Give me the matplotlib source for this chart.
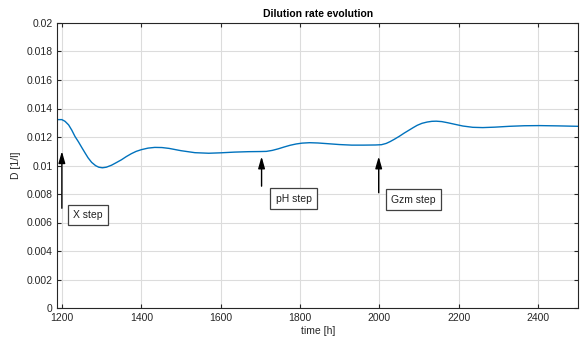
import matplotlib
matplotlib.use("Agg")
import matplotlib.pyplot as plt

# values
time_h = [1189, 1200, 1208, 1217, 1225, 1233, 1242, 1250, 1258, 1266, 1275, 1285,
          1293, 1302, 1312, 1325, 1337, 1350, 1362, 1375, 1387, 1400, 1417, 1434,
          1452, 1470, 1500, 1535, 1570, 1600, 1635, 1670, 1700, 1715, 1730, 1745,
          1760, 1775, 1790, 1805, 1824, 1845, 1870, 1899, 1930, 1960, 1990, 2005,
          2017, 2027, 2038, 2050, 2062, 2075, 2085, 2095, 2107, 2120, 2132, 2143,
          2157, 2172, 2190, 2210, 2235, 2260, 2290, 2327, 2365, 2403, 2450, 2500]
dilution = [0.01322, 0.01322, 0.01310, 0.01285, 0.01248, 0.01204, 0.01165, 0.01127,
            0.01090, 0.01054, 0.01022, 0.00999, 0.00988, 0.00984, 0.00988, 0.01002,
            0.01020, 0.01040, 0.01062, 0.01083, 0.01099, 0.01111, 0.01122, 0.01127,
            0.01126, 0.01120, 0.01104, 0.01090, 0.01086, 0.01089, 0.01094, 0.01097,
            0.01098, 0.01099, 0.01106, 0.01117, 0.01130, 0.01142, 0.01151, 0.01157,
            0.01160, 0.01158, 0.01153, 0.01147, 0.01143, 0.01143, 0.01144, 0.01146,
            0.01155, 0.01168, 0.01185, 0.01205, 0.01227, 0.01249, 0.01266, 0.01282,
            0.01296, 0.01305, 0.01310, 0.01311, 0.01308, 0.01300, 0.01289, 0.01277,
            0.01268, 0.01266, 0.01269, 0.01275, 0.01279, 0.01280, 0.01278, 0.01275]

# step annotations: arrow x, arrow tail y, arrow tip y, box left, box text y
step_labels = ["X step", "pH step", "Gzm step"]
step_x = [1200, 1703, 1998]
arrow_tail = [0.0070, 0.00855, 0.00809]
arrow_tip = [0.0110, 0.01063, 0.01063]
box_left = [1217, 1726, 2018]
box_y = [0.00652, 0.00767, 0.00761]

plt.rcParams["font.family"] = ["Liberation Sans", "DejaVu Sans"]
fig = plt.figure(figsize=(5.81, 3.37), dpi=100)
ax = fig.add_axes([57.5 / 581, 29 / 337, 520.5 / 581, 285 / 337])

ax.plot(time_h, dilution, color="#0072BD", lw=1.0)

for lab, x, t0, t1, bl, by in zip(step_labels, step_x, arrow_tail, arrow_tip, box_left, box_y):
    ax.annotate("", xy=(x, t1), xytext=(x, t0),
                arrowprops=dict(arrowstyle="-|>,head_length=0.7,head_width=0.2",
                                color="black", lw=1.0, shrinkA=0, shrinkB=0))
    # text sits a few points in from the box's left edge
    ax.annotate(lab, xy=(bl, by), xytext=(3.5, 0), textcoords="offset points",
                fontsize=7.5, ha="left", va="center", color="#202020",
                bbox=dict(boxstyle="square,pad=0.5", fc="white", ec="#404040", lw=0.9))

ax.set_xlim(1189, 2500)
ax.set_ylim(0, 0.02)
ax.set_xticks(range(1200, 2401, 200))
ax.set_yticks([i * 0.002 for i in range(11)])
ax.set_yticklabels(["0", "0.002", "0.004", "0.006", "0.008", "0.01", "0.012",
                    "0.014", "0.016", "0.018", "0.02"])
ax.grid(True, color="#dcdcdc", lw=0.8)
ax.set_axisbelow(True)
ax.tick_params(direction="in", top=True, right=True, labelsize=7.5,
               colors="#262626", length=3, width=0.8)
for s in ax.spines.values():
    s.set_color("#262626")
    s.set_linewidth(0.8)

ax.set_title("Dilution rate evolution", fontsize=7.5, fontweight="bold", pad=4)
ax.set_xlabel("time [h]", fontsize=7.5, color="#262626", labelpad=2)
ax.set_ylabel("D [1/l]", fontsize=7.5, color="#262626", labelpad=4)

fig.savefig("out.png", dpi=100)
